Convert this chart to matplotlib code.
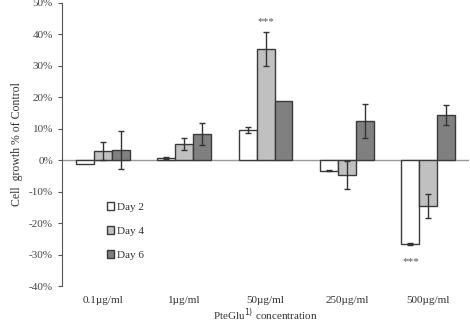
import matplotlib
import numpy as np

matplotlib.use('Agg')
import matplotlib.pyplot as plt

concentrations = ['0.1µg/ml', '1µg/ml', '50µg/ml', '250µg/ml', '500µg/ml']
days = ['Day 2', 'Day 4', 'Day 6']
growth = {
    'Day 2': [-1.3, 0.6, 9.6, -3.4, -26.6],
    'Day 4': [2.8, 5.1, 35.3, -4.7, -14.6],
    'Day 6': [3.2, 8.4, 18.7, 12.3, 14.3],
}
errors = {
    'Day 2': [0.0, 0.3, 0.9, 0.2, 0.4],
    'Day 4': [2.8, 2.0, 5.5, 4.4, 3.8],
    'Day 6': [6.0, 3.5, 0.0, 5.4, 3.1],
}
stars = [(2, 'Day 4', 44.0), (4, 'Day 2', -32.4)]

colors = {'Day 2': '#ffffff', 'Day 4': '#c0c0c0', 'Day 6': '#808080'}

plt.rcParams['font.family'] = ['Liberation Serif', 'DejaVu Serif']

fig = plt.figure(figsize=(4.7, 3.25), dpi=100)
ax = fig.add_axes([0.132, 0.12, 0.866, 0.872])

x = np.arange(len(concentrations))
w = 0.22
for i, d in enumerate(days):
    pos = x + (i - 1) * w
    err = np.array(errors[d])
    ax.bar(pos, growth[d], w, color=colors[d], edgecolor='#3a3a3a',
           linewidth=1.0, label=d, zorder=2)
    mask = err > 0
    ax.errorbar(pos[mask], np.array(growth[d])[mask], yerr=err[mask], fmt='none',
                ecolor='#333333', elinewidth=1.0, capsize=2.5, capthick=1.0, zorder=3)

for gi, d, yv in stars:
    xi = gi + (days.index(d) - 1) * w
    ax.text(xi, yv, '***', ha='center', va='center', fontsize=8, color='#555555')

ax.axhline(0, color='#999999', linewidth=1.0, zorder=1)

ax.set_xlim(-0.5, len(concentrations) - 0.5)
ax.set_ylim(-40, 50)
ax.set_yticks(np.arange(-40, 51, 10))
ax.set_yticklabels([f'{v}%' for v in range(-40, 51, 10)], fontsize=8, color='#444444')
ax.set_xticks(x)
ax.set_xticklabels(concentrations, fontsize=8, color='#333333')
ax.tick_params(axis='x', length=0, pad=7)
ax.tick_params(axis='y', direction='out', length=3, color='#555555')
for s in ['top', 'right', 'bottom']:
    ax.spines[s].set_visible(False)
ax.spines['left'].set_color('#555555')

ax.set_ylabel('Cell  growth % of Control', fontsize=8.5, color='#333333')
ax.set_xlabel('PteGlu$^{1)}$ concentration', fontsize=8, color='#333333', labelpad=1)

ax.legend(loc='upper left', bbox_to_anchor=(0.085, 0.33), frameon=False, fontsize=8,
          labelspacing=1.25, handlelength=0.7, handleheight=0.7, handletextpad=0.2,
          labelcolor='#333333')

fig.savefig('out.png', dpi=100)
